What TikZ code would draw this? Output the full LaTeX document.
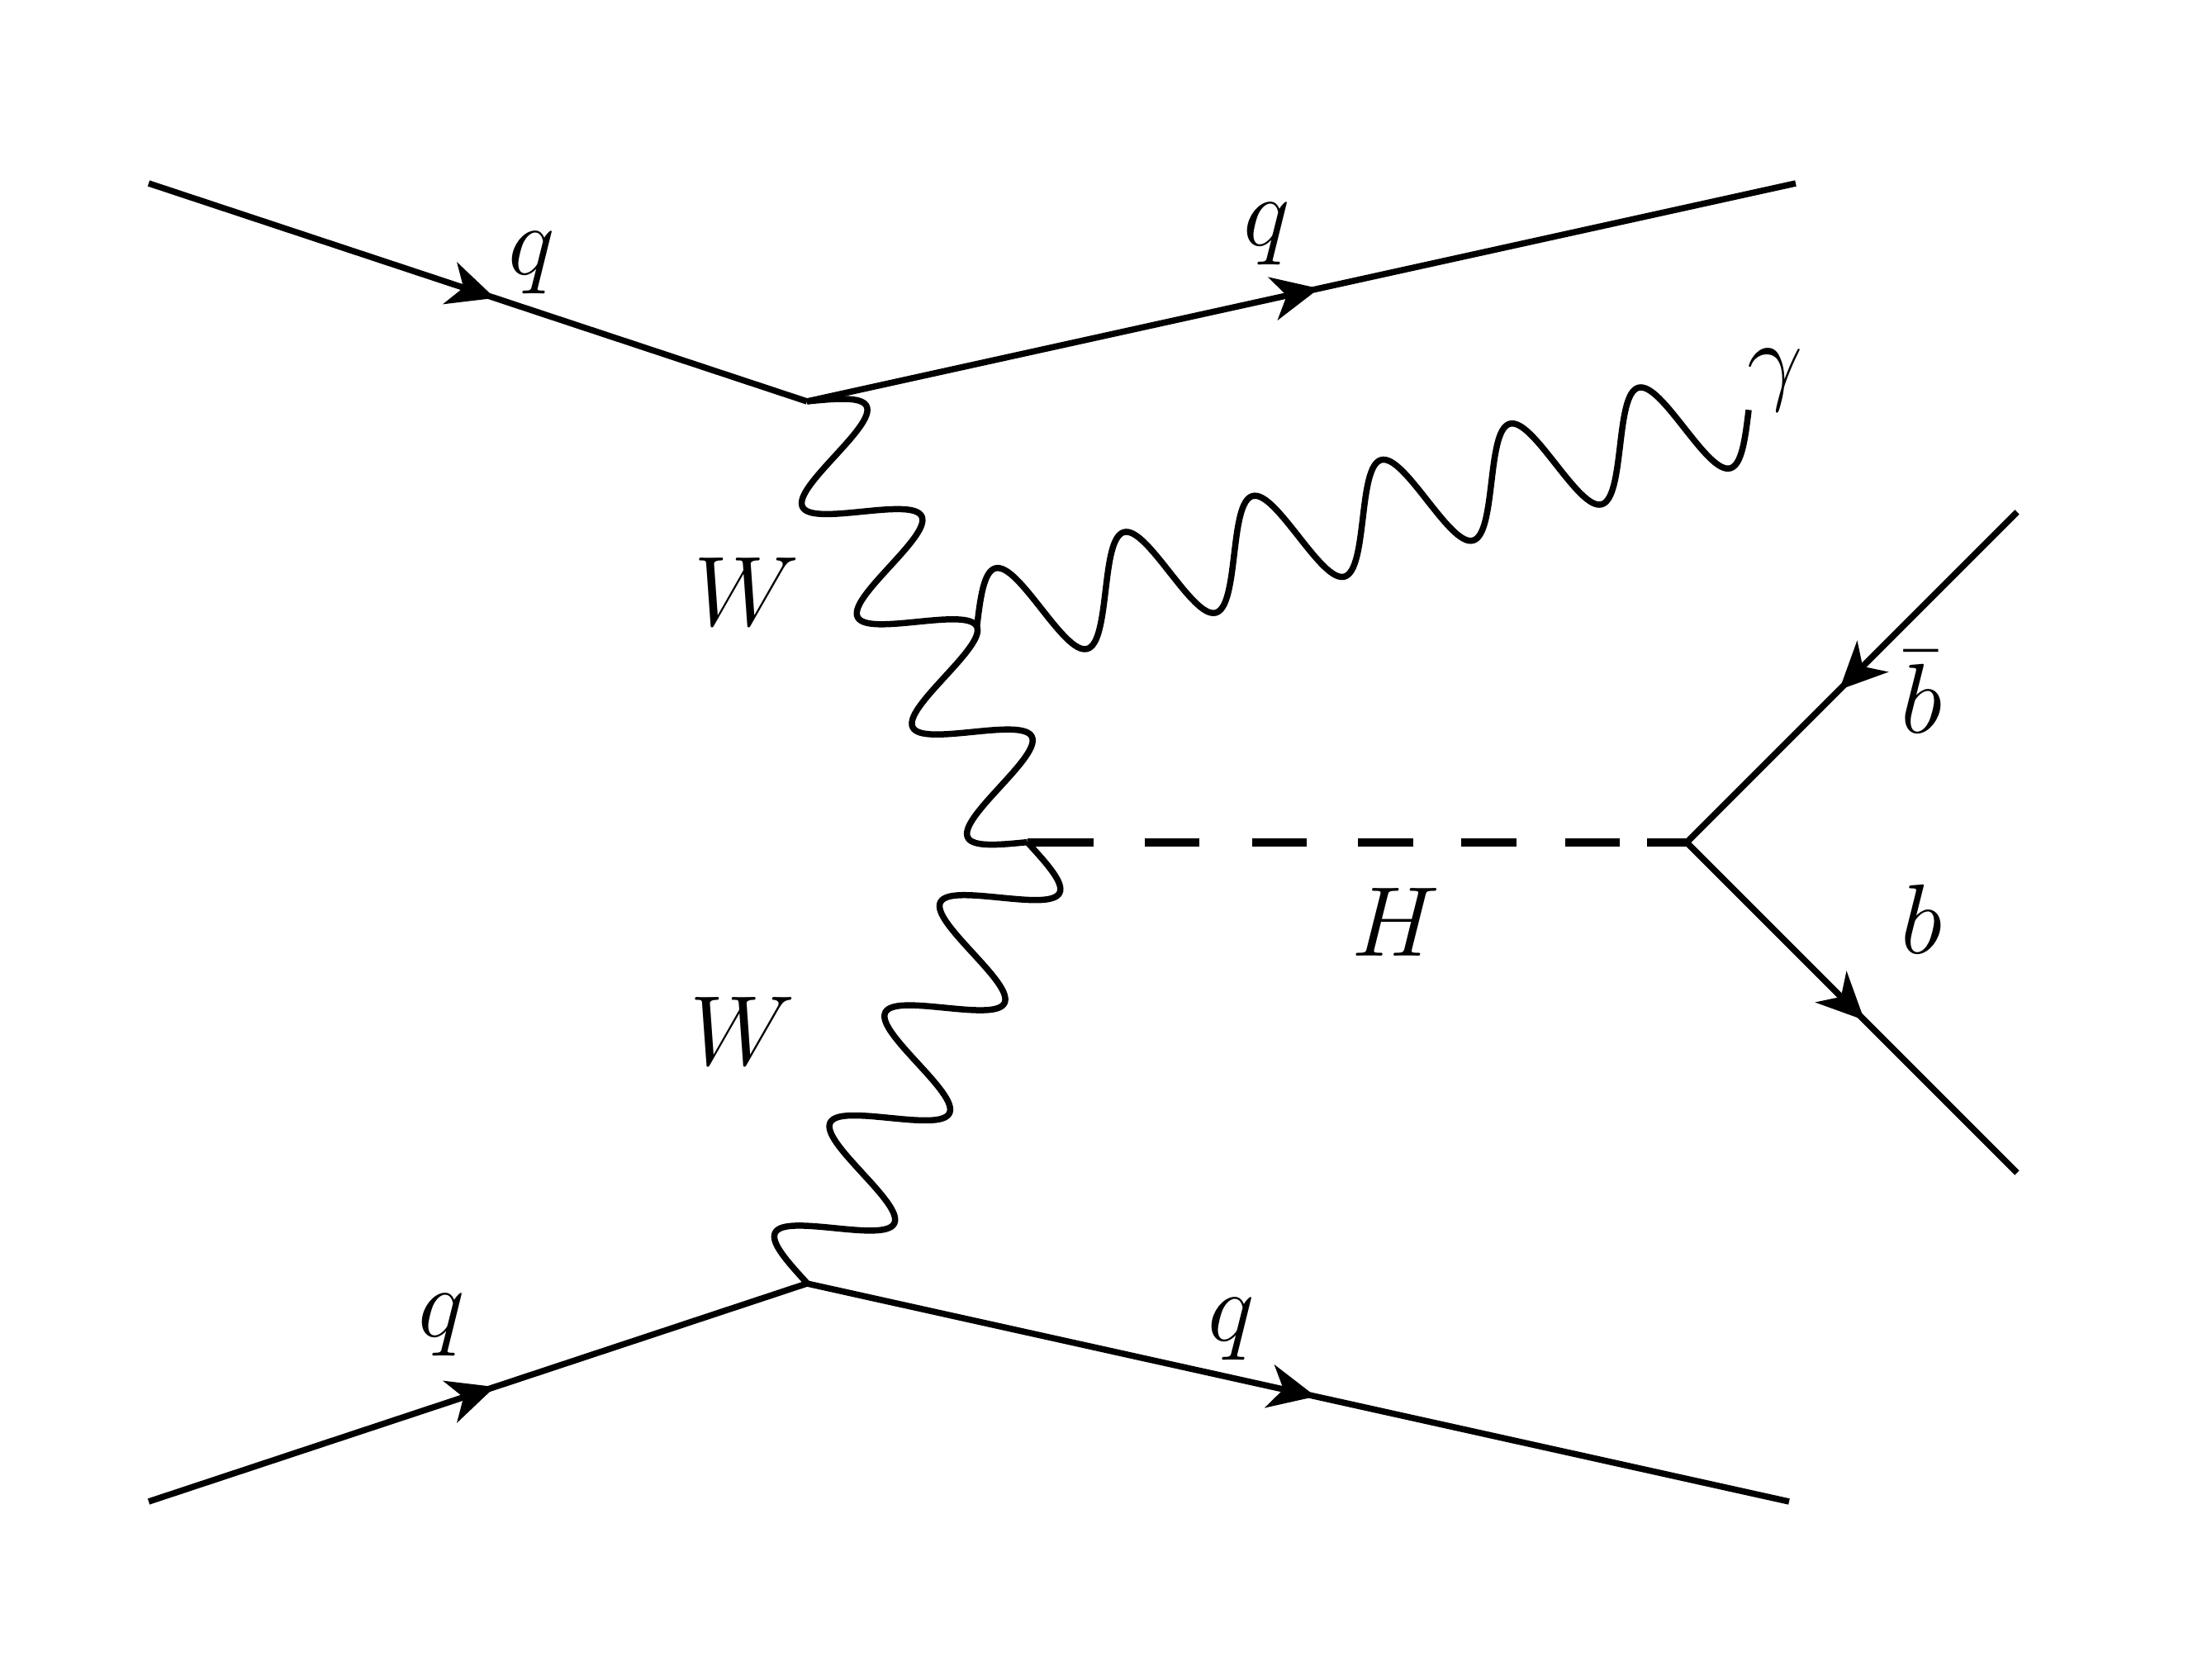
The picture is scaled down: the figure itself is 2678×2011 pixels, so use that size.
\documentclass[tikz,border=0pt]{standalone}
\usetikzlibrary{decorations.markings,arrows.meta}
\makeatletter
\newdimen\fswidth
\newdimen\fsq
\pgfkeys{/pgf/decoration/periods/.initial=4}
\pgfdeclaredecoration{fitsine}{start}{%
  \state{start}[width=+0pt, next state=wave,
    persistent precomputation={%
      \pgfmathsetlength\fswidth{\pgfdecoratedpathlength/\pgfkeysvalueof{/pgf/decoration/periods}}%
      \fsq=0.25\fswidth}]{%
    \pgfpathmoveto{\pgfpointorigin}}%
  \state{wave}[width=\fswidth-0.005pt]{%
    \pgfpathcurveto{\pgfqpoint{0.3262\fsq}{0.5124\pgfdecorationsegmentamplitude}}{\pgfqpoint{0.6381\fsq}{\pgfdecorationsegmentamplitude}}{\pgfqpoint{\fsq}{\pgfdecorationsegmentamplitude}}%
    \pgfpathcurveto{\pgfqpoint{1.3619\fsq}{\pgfdecorationsegmentamplitude}}{\pgfqpoint{1.6738\fsq}{0.5124\pgfdecorationsegmentamplitude}}{\pgfqpoint{2\fsq}{0pt}}%
    \pgfpathcurveto{\pgfqpoint{2.3262\fsq}{-0.5124\pgfdecorationsegmentamplitude}}{\pgfqpoint{2.6381\fsq}{-\pgfdecorationsegmentamplitude}}{\pgfqpoint{3\fsq}{-\pgfdecorationsegmentamplitude}}%
    \pgfpathcurveto{\pgfqpoint{3.3619\fsq}{-\pgfdecorationsegmentamplitude}}{\pgfqpoint{3.6738\fsq}{-0.5124\pgfdecorationsegmentamplitude}}{\pgfqpoint{4\fsq}{0pt}}%
  }%
  \state{final}{}%
}
\makeatother
\tikzset{
  fermion/.style={line width=0.75pt, postaction={decorate, decoration={markings,
      mark=at position 0.5 with {\arrow[xshift=2.2pt]{Stealth[length=5.7pt,width=5.3pt,inset=1.7pt]}}}}},
  wboson/.style={line width=0.75pt, decorate, decoration={fitsine, periods=4, amplitude=6.2pt}},
  photon/.style={line width=0.75pt, decorate, decoration={fitsine, periods=6, amplitude=6.2pt}},
  scalar/.style={line width=1.05pt, dash pattern=on 8pt off 6.2pt on 6.6pt off 6.4pt on 6.6pt off 6.2pt on 6.7pt off 5.8pt on 6.7pt off 5.9pt on 6.6pt off 3.3pt on 6pt},
  lbl/.style={anchor=base, inner sep=0pt, font=\fontsize{12}{14}\selectfont},
}
\begin{document}
\begin{tikzpicture}[x=0.1pt, y=-0.1pt]
\useasboundingbox (0,0) rectangle (2678,2011);
\coordinate (i1) at (180,222);
\coordinate (v1) at (977,486);
\coordinate (o1) at (2174,222);
\coordinate (i2) at (180,1818);
\coordinate (v2) at (977,1554);
\coordinate (o2) at (2166,1818);
\coordinate (h) at (1244,1020);
\coordinate (hb) at (2042,1020);
\coordinate (bb) at (2442,620);
\coordinate (bo) at (2442,1420);
\coordinate (p) at (1182.7,758.7);
\coordinate (g) at (2118,496);

\draw[fermion] (i1) -- (v1);
\draw[fermion] (v1) -- (o1);
\draw[fermion] (i2) -- (v2);
\draw[fermion] (v2) -- (o2);
\draw[scalar] (h) -- (hb);
\draw[wboson] (v1) -- (h);
\draw[wboson] (h) -- (v2);
\draw[photon] (p) -- (g);
\draw[fermion] (bb) -- (hb);
\draw[fermion] (hb) -- (bo);

\node[lbl] (lq1) at (644,333) {$q$};
\node[lbl] (lq2) at (1534,298) {$q$};
\node[lbl] (lq3) at (535,1619) {$q$};
\node[lbl] (lq4) at (1491,1624) {$q$};
\node[lbl] (lw1) at (904,758) {$W$};
\node[lbl] (lw2) at (899,1290) {$W$};
\node[lbl] (lh) at (1690,1158) {$H$};
\node[lbl] (lg) at (2149,475) {$\gamma$};
\node[lbl] (lbb) at (2326,888) {$\bar{b}$};
\node[lbl] (lb) at (2326,1155) {$b$};
\end{tikzpicture}
\end{document}
